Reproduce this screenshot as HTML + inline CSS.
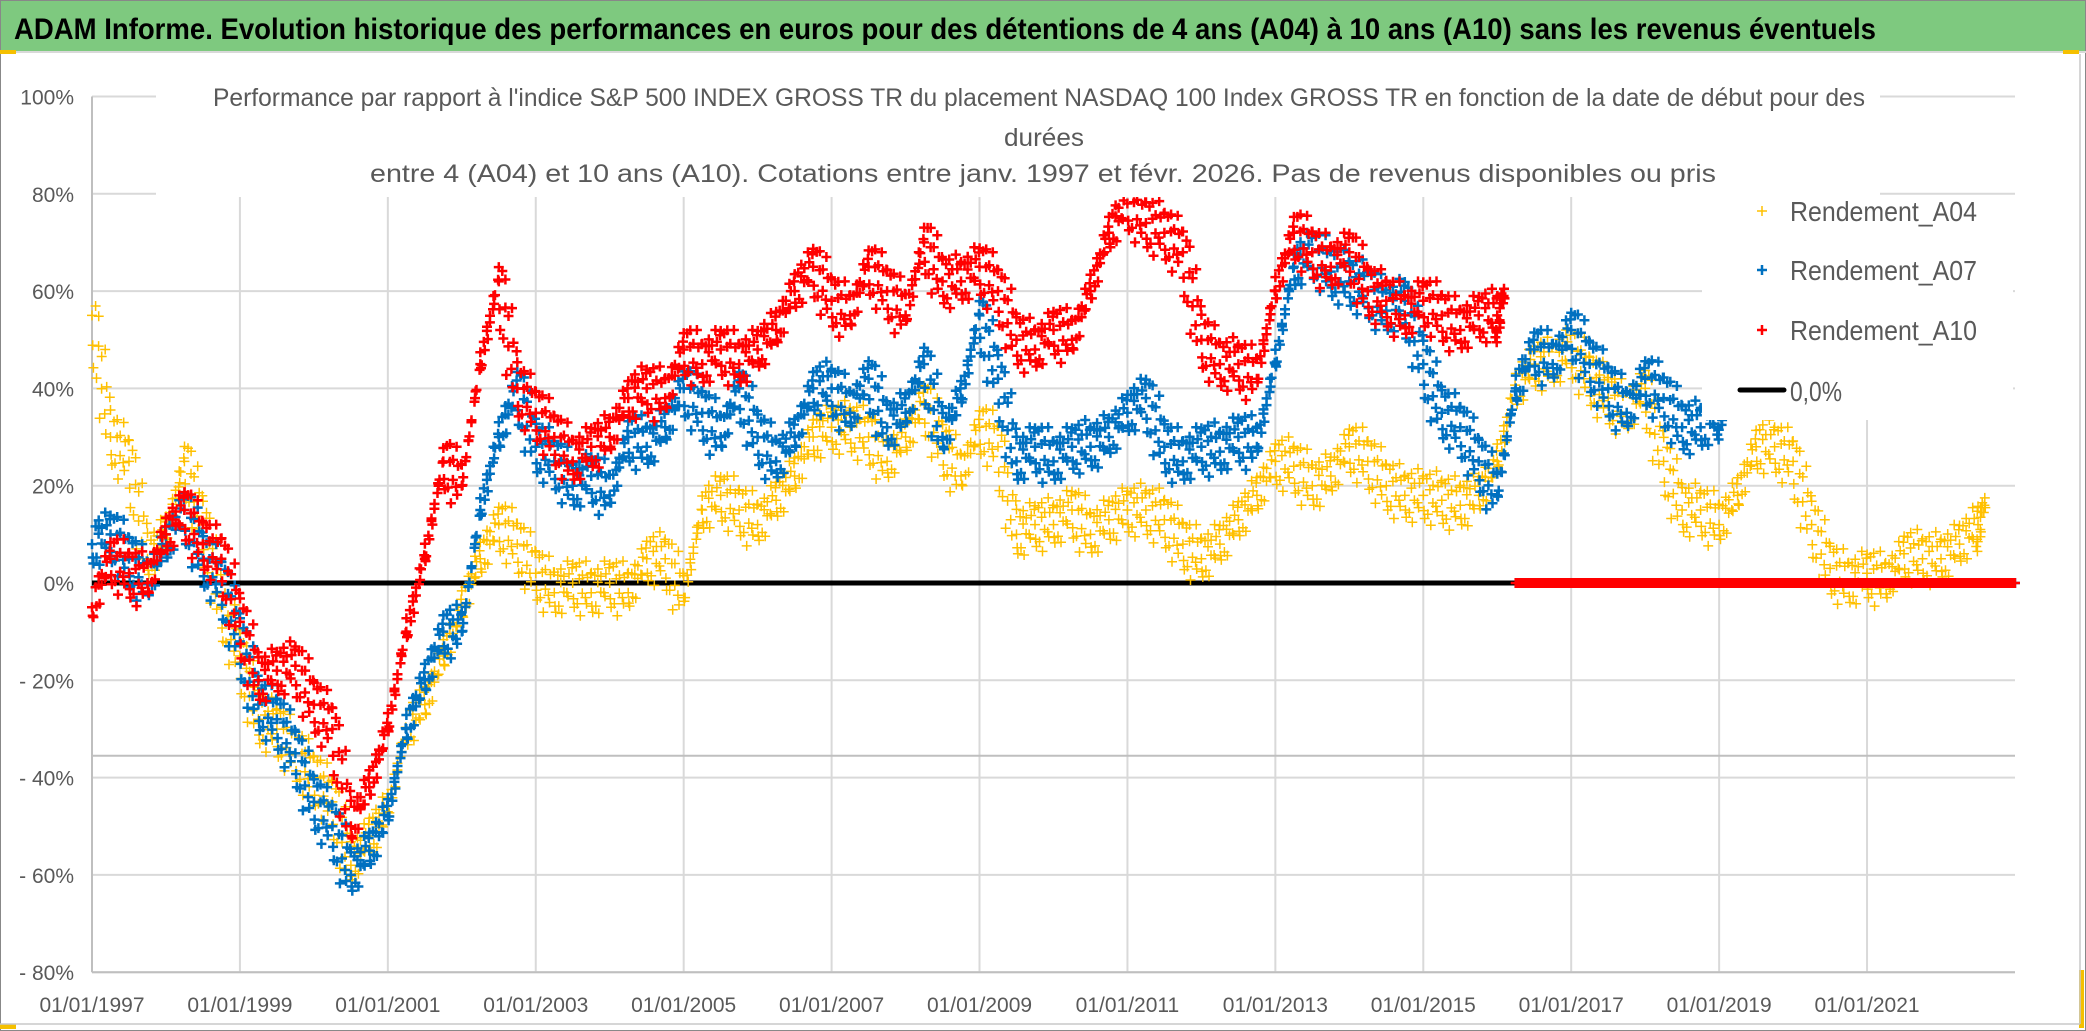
<!DOCTYPE html>
<html><head><meta charset="utf-8"><style>
html,body{margin:0;padding:0;background:#fff;}
svg{display:block;font-family:"Liberation Sans",sans-serif;}
</style></head><body>
<svg id="chart" width="2086" height="1031" viewBox="0 0 2086 1031" xmlns="http://www.w3.org/2000/svg">
<rect x="0" y="0" width="2086" height="1031" fill="#fff"/>
<rect x="0.5" y="0.5" width="2085" height="1030" fill="none" stroke="#888"/>
<rect x="1" y="1" width="2084" height="50" fill="#7ec97f"/>
<line x1="0" y1="52" x2="2086" y2="52" stroke="#d9d9d9" stroke-width="2"/>
<text x="14" y="39" font-size="30" font-weight="bold" fill="#000" textLength="1862" lengthAdjust="spacingAndGlyphs">ADAM Informe. Evolution historique des performances en euros pour des détentions de 4 ans (A04) à 10 ans (A10) sans les revenus éventuels</text>
<rect x="0" y="50" width="16" height="4" fill="#f5c000"/>
<rect x="2063" y="50" width="16" height="4" fill="#f5c000"/>
<rect x="2079" y="970" width="5" height="58" fill="#f5c000"/>
<rect x="0" y="1024" width="16" height="5" fill="#f5c000"/>
<line x1="2080" y1="54" x2="2080" y2="1024" stroke="#c8c8c8" stroke-width="1.5"/>
<line x1="0" y1="1024" x2="2080" y2="1024" stroke="#c8c8c8" stroke-width="1.5"/>
<g id="grid"></g>
<g id="axes"></g>
<g id="series"></g>
<rect x="156" y="84" width="1724" height="113" fill="#fff"/>
<g font-size="25" fill="#595959">
<text x="213" y="106" textLength="1652" lengthAdjust="spacingAndGlyphs">Performance par rapport à l'indice S&amp;P 500 INDEX GROSS TR  du placement NASDAQ 100 Index GROSS TR en fonction de la date de début pour des</text>
<text x="1044" y="146" text-anchor="middle" textLength="80" lengthAdjust="spacingAndGlyphs">durées</text>
<text x="370" y="182" textLength="1346" lengthAdjust="spacingAndGlyphs">entre 4 (A04) et 10 ans (A10). Cotations entre janv. 1997 et févr. 2026. Pas de revenus disponibles ou pris</text>
</g>
<rect x="1702" y="197" width="311" height="223" fill="#fff"/>
<g font-size="28" fill="#595959">
<g><path d="M1757 211h10M1762 206v10" stroke="#ffc000" stroke-width="1.5"/><text x="1790" y="221" textLength="187" lengthAdjust="spacingAndGlyphs">Rendement_A04</text></g>
<g><path d="M1757 270h10M1762 265v10" stroke="#0070c0" stroke-width="2.5"/><text x="1790" y="280" textLength="187" lengthAdjust="spacingAndGlyphs">Rendement_A07</text></g>
<g><path d="M1757 330h10M1762 325v10" stroke="#ff0000" stroke-width="2.5"/><text x="1790" y="340" textLength="187" lengthAdjust="spacingAndGlyphs">Rendement_A10</text></g>
<g><line x1="1740" y1="390" x2="1784" y2="390" stroke="#000" stroke-width="5" stroke-linecap="round"/><text x="1790" y="401" textLength="52" lengthAdjust="spacingAndGlyphs">0,0%</text></g>
</g>
</svg>
<script>
const yTickValues = [100,80,60,40,20,0,-20,-40,-60,-80];
const yTickLabels = ["100%","80%","60%","40%","20%","0%","- 20%","- 40%","- 60%","- 80%"];
const xTickYears = [1997,1999,2001,2003,2005,2007,2009,2011,2013,2015,2017,2019,2021];
const xTickLabels = ["01/01/1997","01/01/1999","01/01/2001","01/01/2003","01/01/2005","01/01/2007","01/01/2009","01/01/2011","01/01/2013","01/01/2015","01/01/2017","01/01/2019","01/01/2021"];
const startYear = 1997;
const stepYears = 0.25;
const extraLineValue = -35.5;
const rendementA04 = [
55,30,25,5, 10,25,12,-5, -15,-28,-30,-35, -40,-45,-58,-52, -47,-30,-25,-15,
-5,5,12,8, 2,-2,0,-2, 0,-2,5,5, -3,15,18,15, 12,17,22,30,
32,32,30,25, 30,37,28,22, 32,28,10,12, 12,15,10,13, 15,15,13,8,
5,8,13,18, 25,24,20,22, 28,25,20,18, 18,17,16,18, 25,40,45,45,
48,42,38,35, 40,25,15,15, 12,18,28,28, 25,12,3,0, 2,0,6,5,
5,8,12,0, 0];
const rendementA07 = [
8,10,5,0, 8,15,5,0, -12,-25,-28,-35, -45,-50,-60,-55, -48,-30,-20,-10,
-10,15,30,40, 28,25,20,22, 18,30,28,32, 40,35,30,40, 30,25,30,40,
40,35,42,32, 35,45,30,38, 55,42,25,28, 25,28,28,30, 35,38,28,25,
28,27,30,28, 45,65,68,64, 62,60,56,58, 45,35,32,25, 18,40,48,45,
52,45,40,35, 42,38,32,32, 35,0,0,0, 0,0,0,0, 0,0,0,0,
0,0,0,0, 0];
const rendementA10 = [
-5,5,2,0, 10,15,8,5, -8,-20,-18,-17, -25,-30,-50,-42, -30,-10,5,25,
20,45,62,40, 35,30,25,28, 30,38,40,38, 48,45,48,45, 48,52,60,65,
58,55,65,60, 55,70,62,62, 65,60,50,48, 52,50,60,72, 78,74,72,68,
50,45,45,42, 60,72,68,65, 68,60,58,55, 58,55,52,55, 55,0,0,0,
0,0,0,0, 0,0,0,0, 0,0,0,0, 0,0,0,0, 0,0,0,0,
0,0,0,0, 0];

const X0 = 92, PXY = 73.96, Y0 = 583, PXV = 4.865;
const xs = yr => X0 + (yr - 1997) * PXY;
const ys = v => Y0 - v * PXV;
const NS = "http://www.w3.org/2000/svg";
const grid = document.getElementById('grid');
const axes = document.getElementById('axes');
const seriesG = document.getElementById('series');
function mk(tag, attrs, parent){ const e = document.createElementNS(NS, tag); for (const k in attrs) e.setAttribute(k, attrs[k]); parent.appendChild(e); return e; }

yTickValues.forEach((v,i) => {
  const ln = mk('line', {x1: X0, x2: 2015, y1: ys(v), y2: ys(v), stroke: '#d9d9d9', 'stroke-width': 2}, grid);
  
  
  const t = mk('text', {x: 74, y: ys(v) + 8, 'text-anchor': 'end', 'font-size': 21, fill: '#595959'}, axes);
  t.textContent = yTickLabels[i];
  
  
});
xTickYears.forEach((yr,i) => {
  if (i > 0) {
    const ln = mk('line', {x1: xs(yr), x2: xs(yr), y1: 197, y2: ys(-80), stroke: '#d9d9d9', 'stroke-width': 2}, grid);
    
    
  }
  const t = mk('text', {x: xs(yr), y: 1012, 'text-anchor': 'middle', 'font-size': 21, fill: '#595959'}, axes);
  t.textContent = xTickLabels[i];
  
  
});
const extra = mk('line', {x1: X0, x2: 2015, y1: ys(extraLineValue), y2: ys(extraLineValue), stroke: '#bfbfbf', 'stroke-width': 2}, grid);


const la = mk('line', {x1: X0, x2: X0, y1: ys(100), y2: ys(-80), stroke: '#bfbfbf', 'stroke-width': 2}, axes);


const lb = mk('line', {x1: X0, x2: 2015, y1: ys(-80), y2: ys(-80), stroke: '#bfbfbf', 'stroke-width': 2}, axes);


const zl = mk('line', {x1: X0, x2: 2015, y1: ys(0), y2: ys(0), stroke: '#000', 'stroke-width': 5}, seriesG);



// visual spread pattern (style only) to mimic dense daily scatter
const jitterV = [0,3.5,-3,4.5,-4.5,1.5,-3.5,2.5,5.5,-1,-5.5,2.5,-1.5,3.5,-2.5,4];
const jitterX = [0,0.3,-0.2,0.4,-0.4,0.1,-0.3,0.2,0.5,-0.1,-0.5,0.25,-0.15,0.35,-0.3,0.15];
function drawSeries(vals, color, sw, name){
  const g = mk('g', {stroke: color, 'stroke-width': sw, fill: 'none'}, seriesG);
  
  
  let lastNZ = 0;
  vals.forEach((v,i) => { if (v !== 0) lastNZ = i; });
  let d = '';
  const per = 16, s = 5;
  for (let i = 0; i < vals.length - 1; i++) {
    const a = vals[i];
    const b = (i === lastNZ) ? a : vals[i+1];
    const flat = (i > lastNZ);
    const span = (i === lastNZ) ? 0.3 : 1;
    for (let k = 0; k < per; k++) {
      const f = k / per * span;
      const j = (i * per + k) % jitterV.length;
      const v = a + (b - a) * f + (flat ? 0 : jitterV[j]);
      const x = xs(startYear + (i + f) * stepYears) + (flat ? 0 : jitterX[j] * 8);
      const y = ys(v);
      d += `M${(x-s).toFixed(1)} ${y.toFixed(1)}h${2*s}M${x.toFixed(1)} ${(y-s).toFixed(1)}v${2*s}`;
    }
  }
  const last = vals.length - 1;
  const xl = xs(startYear + last * stepYears), yl = ys(vals[last]);
  d += `M${xl-s} ${yl}h${2*s}M${xl} ${yl-s}v${2*s}`;
  mk('path', {d: d}, g);
}
drawSeries(rendementA04, '#ffc000', 1.5, 'series-rendement-a04');
drawSeries(rendementA07, '#0070c0', 2.5, 'series-rendement-a07');
drawSeries(rendementA10, '#ff0000', 2.5, 'series-rendement-a10');
</script>
</body></html>
